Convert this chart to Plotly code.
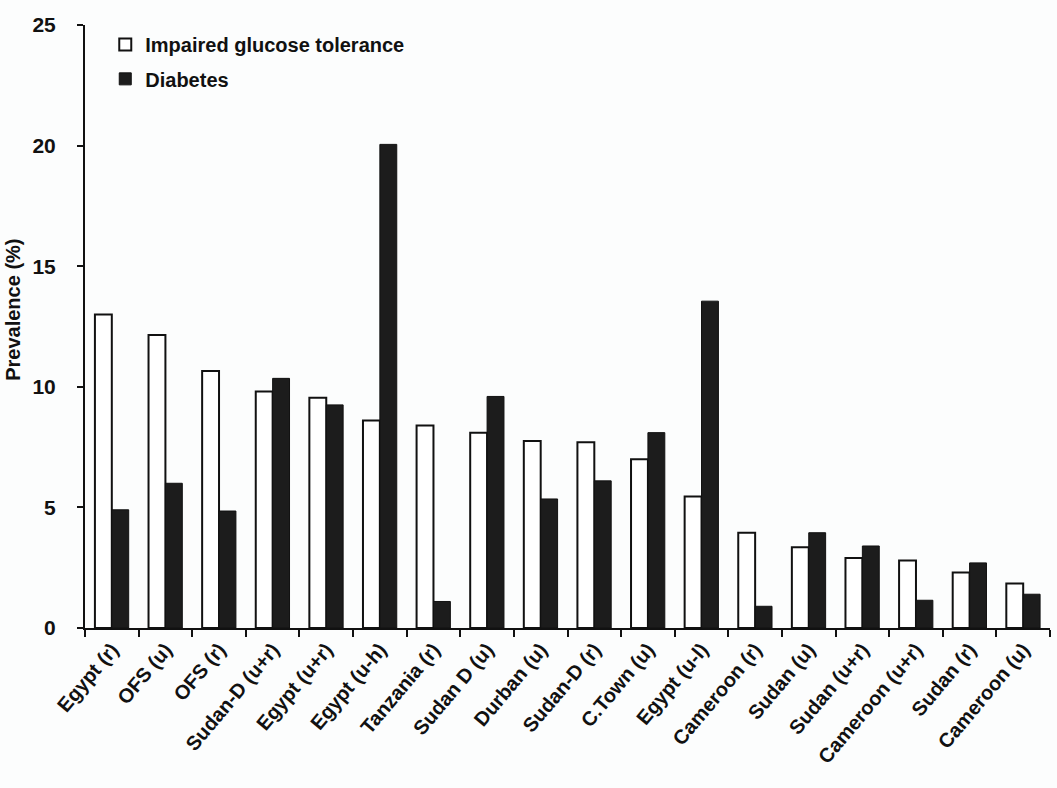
import plotly.graph_objects as go

# Survey sites (u = urban, r = rural)
sites = [
    "Egypt (r)", "OFS (u)", "OFS (r)", "Sudan-D (u+r)", "Egypt (u+r)",
    "Egypt (u-h)", "Tanzania (r)", "Sudan D (u)", "Durban (u)", "Sudan-D (r)",
    "C.Town (u)", "Egypt (u-l)", "Cameroon (r)", "Sudan (u)", "Sudan (u+r)",
    "Cameroon (u+r)", "Sudan (r)", "Cameroon (u)",
]

# Prevalence (%)
igt = [13.0, 12.15, 10.65, 9.8, 9.55, 8.6, 8.4, 8.1, 7.75, 7.7,
       7.0, 5.45, 3.95, 3.35, 2.9, 2.8, 2.3, 1.85]
diabetes = [4.9, 6.0, 4.85, 10.35, 9.25, 20.05, 1.1, 9.6, 5.35, 6.1,
            8.1, 13.55, 0.9, 3.95, 3.4, 1.15, 2.7, 1.4]

y_ticks = [0, 5, 10, 15, 20, 25]

FONT = "Liberation Sans, Arial, sans-serif"
INK = "#111111"
BG = "#fcfdfd"

legend_style = dict(
    xanchor="left", yanchor="top",
    bgcolor="rgba(0,0,0,0)",
    font=dict(family=FONT, size=20, color=INK, weight="bold"),
)

fig = go.Figure()
fig.add_trace(go.Bar(
    x=sites, y=igt, name="Impaired glucose tolerance", legend="legend",
    marker=dict(color="white", line=dict(color=INK, width=2)),
))
fig.add_trace(go.Bar(
    x=sites, y=diabetes, name="Diabetes", legend="legend2",
    marker=dict(color="#1c1c1c", line=dict(color=INK, width=1)),
))

fig.update_layout(
    width=1057, height=788,
    margin=dict(l=85, r=7, t=25, b=160),
    paper_bgcolor=BG, plot_bgcolor=BG,
    barmode="group", bargap=0.37, bargroupgap=0,
    showlegend=True,
    legend=dict(x=0.021, y=1.0, **legend_style),
    legend2=dict(x=0.021, y=0.943, **legend_style),
    font=dict(family=FONT, color=INK),
)

# Rotated y-axis title, placed left of the tick labels
fig.add_annotation(
    text="Prevalence (%)", textangle=-90,
    xref="paper", yref="paper", x=-0.074, y=0.527,
    xanchor="center", yanchor="middle", showarrow=False,
    font=dict(family=FONT, size=20, color=INK, weight="bold"),
)

fig.update_xaxes(
    type="category", automargin=False,
    showline=True, linecolor=INK, linewidth=2,
    ticks="outside", tickson="boundaries", ticklen=7, tickwidth=2, tickcolor=INK,
    tickangle=-50,
    tickfont=dict(family=FONT, size=20, color=INK, weight="bold"),
    showgrid=False, zeroline=False,
)
fig.update_yaxes(
    range=[0, 25], tickvals=y_ticks, automargin=False,
    showline=True, linecolor=INK, linewidth=2,
    ticks="outside", ticklen=6, tickwidth=2, tickcolor=INK,
    ticklabelstandoff=17,
    tickfont=dict(family=FONT, size=21, color=INK, weight="bold"),
    showgrid=False, zeroline=False,
)

fig.write_html("out.html")
